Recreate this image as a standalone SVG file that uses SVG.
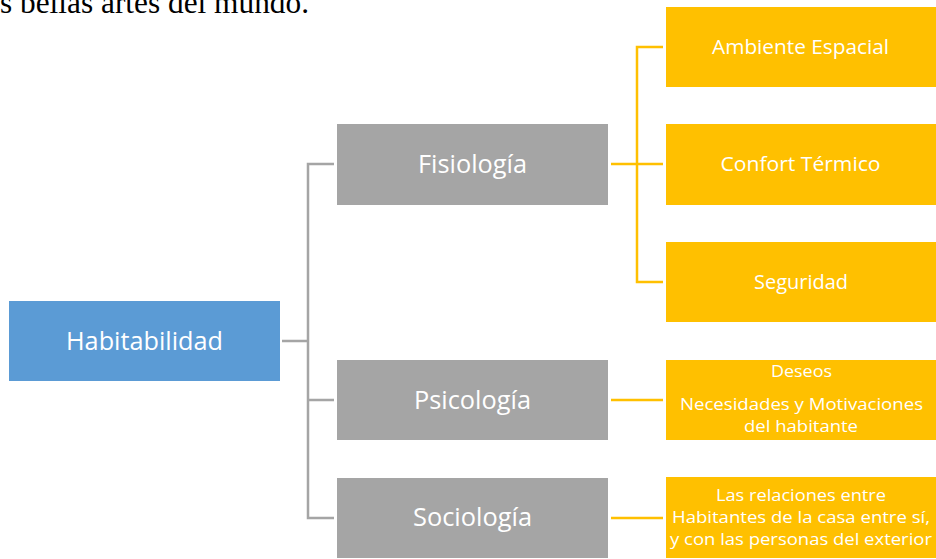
<svg xmlns="http://www.w3.org/2000/svg" width="936" height="559" viewBox="0 0 936 559">
<style>
.blue{fill:#5B9BD5}
.gray{fill:#A5A5A5}
.gold{fill:#FFC000}
.t{font-family:"Open Sans","Noto Sans",sans-serif;fill:#FFFFFF;text-anchor:middle}
.big{font-size:25px}
.mid{font-size:20px}
.sm{font-size:16px}
.gl{stroke:#A5A5A5;stroke-width:2.5;fill:none}
.ol{stroke:#FFC000;stroke-width:2.5;fill:none}
</style>
<rect width="936" height="559" fill="#FFFFFF"/>
<text x="0" y="13" font-family="'Liberation Serif','Times New Roman',serif" font-size="31" fill="#000000" textLength="309" lengthAdjust="spacingAndGlyphs">s bellas artes del mundo.</text>
<g id="connectors">
<path class="gl" d="M282 341 H308 M334 164 H308 V518 H334 M308 400 H334"/>
<path class="ol" d="M611 164 H663 M663 47 H637 V282 H663 M611 400 H663 M611 518 H663"/>
</g>
<g id="habitabilidad">
<rect class="blue" x="9" y="301" width="271" height="80"/>
<text class="t big" x="144.5" y="350" textLength="157" lengthAdjust="spacingAndGlyphs">Habitabilidad</text>
</g>
<g id="fisiologia">
<rect class="gray" x="337" y="124" width="271" height="81"/>
<text class="t big" x="472.5" y="173" textLength="109" lengthAdjust="spacingAndGlyphs">Fisiología</text>
</g>
<g id="psicologia">
<rect class="gray" x="337" y="360" width="271" height="80"/>
<text class="t big" x="472.5" y="409" textLength="117" lengthAdjust="spacingAndGlyphs">Psicología</text>
</g>
<g id="sociologia">
<rect class="gray" x="337" y="478" width="271" height="80"/>
<text class="t big" x="472.5" y="526" textLength="119" lengthAdjust="spacingAndGlyphs">Sociología</text>
</g>
<g id="ambiente">
<rect class="gold" x="666" y="7" width="270" height="80"/>
<text class="t mid" x="800.5" y="54" textLength="177" lengthAdjust="spacingAndGlyphs">Ambiente Espacial</text>
</g>
<g id="confort">
<rect class="gold" x="666" y="124" width="270" height="81"/>
<text class="t mid" x="800.5" y="171" textLength="160" lengthAdjust="spacingAndGlyphs">Confort Térmico</text>
</g>
<g id="seguridad">
<rect class="gold" x="666" y="242" width="270" height="80"/>
<text class="t mid" x="801" y="289" textLength="94" lengthAdjust="spacingAndGlyphs">Seguridad</text>
</g>
<g id="deseos">
<rect class="gold" x="666" y="360" width="270" height="80"/>
<text class="t sm" x="801.5" y="377" textLength="61" lengthAdjust="spacingAndGlyphs">Deseos</text>
<text class="t sm" x="801.5" y="410" textLength="243" lengthAdjust="spacingAndGlyphs">Necesidades y Motivaciones</text>
<text class="t sm" x="801" y="432" textLength="114" lengthAdjust="spacingAndGlyphs">del habitante</text>
</g>
<g id="relaciones">
<rect class="gold" x="666" y="477" width="270" height="81"/>
<text class="t sm" x="801" y="501" textLength="170" lengthAdjust="spacingAndGlyphs">Las relaciones entre</text>
<text class="t sm" x="801" y="523" textLength="258" lengthAdjust="spacingAndGlyphs">Habitantes de la casa entre sí,</text>
<text class="t sm" x="801" y="545" textLength="262" lengthAdjust="spacingAndGlyphs">y con las personas del exterior</text>
</g>
</svg>
